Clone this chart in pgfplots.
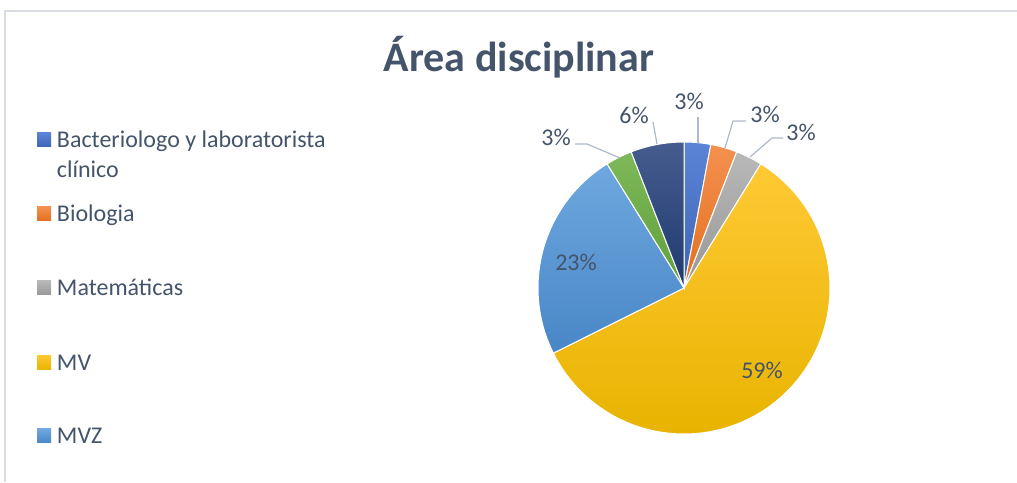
\documentclass[border=0pt]{standalone}
\usepackage{pgfplots}
\pgfplotsset{compat=1.18}
\usepackage{fontspec}
\setmainfont{Carlito}
\definecolor{txt}{RGB}{68,84,106}
\definecolor{lead}{RGB}{173,185,202}
\definecolor{frame}{RGB}{217,221,227}
\definecolor{blueT}{HTML}{5B84D6}\definecolor{blueB}{HTML}{3C65B6}
\definecolor{orT}{HTML}{F4904F}\definecolor{orB}{HTML}{E2701F}
\definecolor{grT}{HTML}{B8B8B8}\definecolor{grB}{HTML}{979797}
\definecolor{yeT}{HTML}{FFC935}\definecolor{yeB}{HTML}{E8B400}
\definecolor{lbT}{HTML}{6FA8DF}\definecolor{lbB}{HTML}{4886C6}
\definecolor{gnT}{HTML}{7EB85A}\definecolor{gnB}{HTML}{60A038}
\definecolor{nvT}{HTML}{465C8E}\definecolor{nvB}{HTML}{1F3A70}
\pgfplotsset{legend image code/.code={\path[#1,draw=none] (0pt,1pt) rectangle (14pt,15pt);}}
% shares of each area (percent), clockwise from 12 o'clock
\def\vA{2.94}\def\vB{2.94}\def\vC{2.94}\def\vD{58.82}\def\vE{23.53}\def\vF{2.94}\def\vG{5.89}
\pgfmathsetmacro\cA{\vA}
\pgfmathsetmacro\cB{\cA+\vB}
\pgfmathsetmacro\cC{\cB+\vC}
\pgfmathsetmacro\cD{\cC+\vD}
\pgfmathsetmacro\cE{\cD+\vE}
\pgfmathsetmacro\cF{\cE+\vF}
\pgfmathsetmacro\cG{\cF+\vG}
\newcommand{\pieslice}[5]{%
  \addplot[#1, top color=#4, bottom color=#5, draw=white, line width=1pt,
    domain={#2*3.6}:{#3*3.6}, samples=90, variable=\t]
    ({684+146*sin(\t)}, {194+146*cos(\t)}) -- (axis cs:684,194) -- cycle;
}
\begin{document}
\begin{tikzpicture}
\begin{axis}[name=ax,
  width=1017pt, height=482pt, scale only axis,
  xmin=0, xmax=1017, ymin=0, ymax=482,
  hide axis, clip=false,
  legend cell align=left,
  legend style={at={(axis cs:37,351)}, anchor=north west, draw=none, fill=none,
    inner sep=0pt, outer sep=0pt, row sep=50pt, column sep=6pt,
    font=\fontsize{24pt}{29pt}\selectfont, text=txt,
    cells={anchor=base west},
    nodes={inner sep=0pt, text height=17pt, text depth=7pt}},
]
\draw[frame, line width=1.5pt] (axis cs:5,0) -- (axis cs:5,471) -- (axis cs:1017,471);
\pieslice{}{0}{\cA}{blueT}{blueB}
\addlegendentry{\parbox[t]{320pt}{\raggedright Bacteriologo y laboratorista\\clínico}}
\pieslice{}{\cA}{\cB}{orT}{orB}
\addlegendentry{Biologia}
\pieslice{}{\cB}{\cC}{grT}{grB}
\addlegendentry{Matemáticas}
\pieslice{}{\cC}{\cD}{yeT}{yeB}
\addlegendentry{MV}
\pieslice{}{\cD}{\cE}{lbT}{lbB}
\addlegendentry{MVZ}
\pieslice{forget plot}{\cE}{\cF}{gnT}{gnB}
\pieslice{forget plot}{\cF}{\cG}{nvT}{nvB}
% title
\node[font=\bfseries\fontsize{42pt}{50pt}\selectfont, text=txt, anchor=base] at (axis cs:519,410) {Área disciplinar};
% leader lines
\draw[lead, line width=1.2pt] (axis cs:698,365) -- (axis cs:698,339);
\draw[lead, line width=1.2pt] (axis cs:653,360) -- (axis cs:657,338);
\draw[lead, line width=1.2pt] (axis cs:746,361) -- (axis cs:733,361) -- (axis cs:725,334);
\draw[lead, line width=1.2pt] (axis cs:783,344) -- (axis cs:772,344) -- (axis cs:750,325);
\draw[lead, line width=1.2pt] (axis cs:575,338) -- (axis cs:587,338) -- (axis cs:620,324);
% data labels
\begin{scope}[every node/.style={font=\fontsize{24pt}{29pt}\selectfont, text=txt, inner sep=0pt}]
\node at (axis cs:689,381) {3\%};
\node at (axis cs:634,367) {6\%};
\node at (axis cs:765,368) {3\%};
\node at (axis cs:801,350) {3\%};
\node at (axis cs:556,345) {3\%};
\node at (axis cs:576,220) {23\%};
\node at (axis cs:762,112) {59\%};
\end{scope}
\end{axis}
\pgfresetboundingbox
\useasboundingbox (ax.south west) rectangle (ax.north east);
\end{tikzpicture}
\end{document}
